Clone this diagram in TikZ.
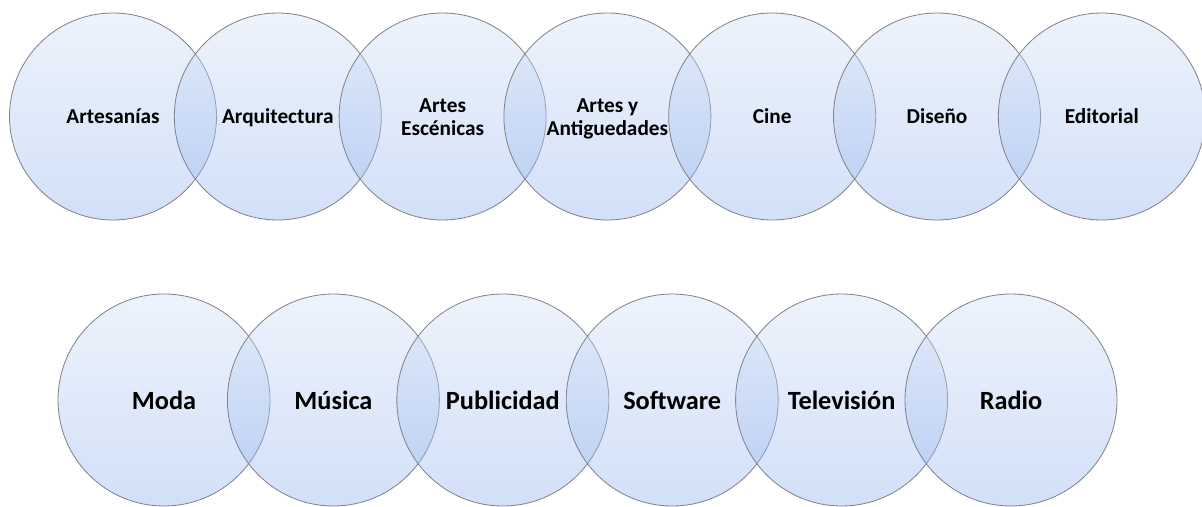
\documentclass[tikz,border=0pt]{standalone}
\usepackage{fontspec}
\setmainfont{Carlito}
\definecolor{ringgray}{RGB}{128,128,134}
\definecolor{disctop}{RGB}{212,225,247}
\definecolor{discbot}{RGB}{142,177,237}
\tikzset{
  disc/.style={circle, draw=ringgray, line width=0.8pt, inner sep=0pt,
    top color=disctop, bottom color=discbot, fill opacity=0.4, draw opacity=1},
  topdisc/.style={disc, minimum size=207pt},
  lowdisc/.style={disc, minimum size=212pt},
  toplabel/.style={font=\bfseries\fontsize{21.3}{23}\selectfont, align=center, inner sep=0pt, anchor=base},
  lowlabel/.style={font=\bfseries\fontsize{26.3}{28}\selectfont, align=center, inner sep=0pt, anchor=base}
}
\begin{document}
\begin{tikzpicture}[x=1pt, y=-1pt]
  \useasboundingbox (0,0) rectangle (1202,506);
  % upper chain of circles
  \foreach \i in {0,...,6} {
    \node[topdisc] (t\i) at ({113+164.8*\i},116.5) {};
  }
  % lower chain of circles
  \foreach \i in {0,...,5} {
    \node[lowdisc] (b\i) at ({164+169.4*\i},400) {};
  }
  % labels, set above all fills; baselines aligned per row
  % (a two-line label sits on the baseline of its last line)
  \node[toplabel] (lt0) at ([yshift=-7pt]t0.center) {Artesanías};
  \node[toplabel] (lt1) at ([yshift=-7pt]t1.center) {Arquitectura};
  \node[toplabel] (lt2) at ([yshift=-18.5pt]t2.center) {Artes\\Escénicas};
  \node[toplabel] (lt3) at ([yshift=-18.5pt]t3.center) {Artes y\\Antiguedades};
  \node[toplabel] (lt4) at ([yshift=-7pt]t4.center) {Cine};
  \node[toplabel] (lt5) at ([yshift=-7pt]t5.center) {Diseño};
  \node[toplabel] (lt6) at ([yshift=-7pt]t6.center) {Editorial};
  \node[lowlabel] (lb0) at ([yshift=-9pt]b0.center) {Moda};
  \node[lowlabel] (lb1) at ([yshift=-9pt]b1.center) {Música};
  \node[lowlabel] (lb2) at ([yshift=-9pt]b2.center) {Publicidad};
  \node[lowlabel] (lb3) at ([yshift=-9pt]b3.center) {Software};
  \node[lowlabel] (lb4) at ([yshift=-9pt]b4.center) {Televisión};
  \node[lowlabel] (lb5) at ([yshift=-9pt]b5.center) {Radio};
\end{tikzpicture}
\end{document}
